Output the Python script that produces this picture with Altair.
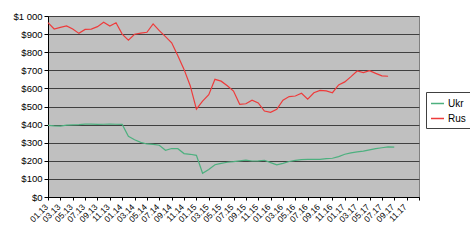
import altair as alt
import pandas as pd

# Month labels for x ticks (every second month, 01.13 .. 11.17, last tick at 01.18 unlabeled)
tick_labels = ["01.13", "03.13", "05.13", "07.13", "09.13", "11.13",
               "01.14", "03.14", "05.14", "07.14", "09.14", "11.14",
               "01.15", "03.15", "05.15", "07.15", "09.15", "11.15",
               "01.16", "03.16", "05.16", "07.16", "09.16", "11.16",
               "01.17", "03.17", "05.17", "07.17", "09.17", "11.17", ""]

series_names = ["Ukr", "Rus"]

ukr = [396, 393, 392, 397, 399, 400, 403, 403, 401, 402, 403, 402, 401, 335, 316,
       302, 293, 291, 286, 258, 268, 267, 240, 236, 230, 131, 152, 178, 186, 192,
       195, 200, 204, 199, 200, 203, 190, 178, 186, 196, 202, 207, 208, 208, 208,
       212, 214, 223, 236, 244, 249, 253, 260, 267, 272, 277, 276]

rus = [963, 928, 937, 945, 928, 904, 926, 928, 941, 965, 945, 963, 900, 867, 899,
       905, 910, 956, 919, 886, 852, 780, 705, 615, 485, 530, 565, 650, 640, 615,
       585, 512, 515, 535, 520, 475, 468, 485, 535, 555, 558, 573, 540, 576, 589,
       586, 576, 619, 636, 665, 696, 687, 698, 683, 669, 667]

rows = []
for i, v in enumerate(ukr):
    rows.append({"m": i, "value": v, "series": "Ukr"})
for i, v in enumerate(rus):
    rows.append({"m": i, "value": v, "series": "Rus"})
df = pd.DataFrame(rows)

label_array = "[" + ",".join("'" + t + "'" for t in tick_labels) + "]"

FONT = "Liberation Sans"

chart = alt.Chart(df).mark_line(strokeWidth=1.2).encode(
    x=alt.X("m:Q",
            scale=alt.Scale(domain=[0, 60], nice=False, zero=False),
            axis=alt.Axis(values=list(range(0, 61, 2)),
                          labelExpr=label_array + "[datum.value/2]",
                          title=None, grid=False,
                          domainColor="#000000", tickColor="#000000",
                          tickSize=3, labelAngle=-45, labelAlign="right",
                          labelBaseline="middle", labelPadding=5,
                          labelOffset=-2,
                          labelFontSize=8.5, labelColor="#000000",
                          labelFont=FONT, labelOverlap=False, labelFlush=False)),
    y=alt.Y("value:Q",
            scale=alt.Scale(domain=[0, 1000], nice=False),
            axis=alt.Axis(values=list(range(0, 1001, 100)),
                          labelExpr="'$' + replace(format(datum.value, ','), ',', ' ')",
                          title=None, grid=True, gridColor="#404040",
                          gridWidth=1, domainColor="#000000",
                          tickColor="#000000", tickSize=4,
                          labelFontSize=9.5, labelColor="#000000",
                          labelFont=FONT, labelPadding=2)),
    color=alt.Color("series:N",
                    scale=alt.Scale(domain=series_names,
                                    range=["#4DB07F", "#EE3B3B"]),
                    legend=alt.Legend(title=None, orient="none",
                                      legendX=378, legendY=76,
                                      strokeColor="#404040", fillColor="#FFFFFF",
                                      padding=4, symbolType="stroke",
                                      symbolSize=170, symbolStrokeWidth=1.5,
                                      labelFontSize=10, labelFont=FONT,
                                      labelColor="#000000", rowPadding=2,
                                      labelOffset=3)),
).properties(
    width=371, height=181,
    padding={"left": 48, "top": 16, "right": 51, "bottom": 43},
    autosize=alt.AutoSizeParams(type="none"),
).configure(
    background="#FFFFFF",
    view=alt.ViewConfig(fill="#C0C0C0", stroke="#808080", strokeWidth=1),
)

chart.save("out.html", embed_options={"renderer": "svg", "actions": False})
